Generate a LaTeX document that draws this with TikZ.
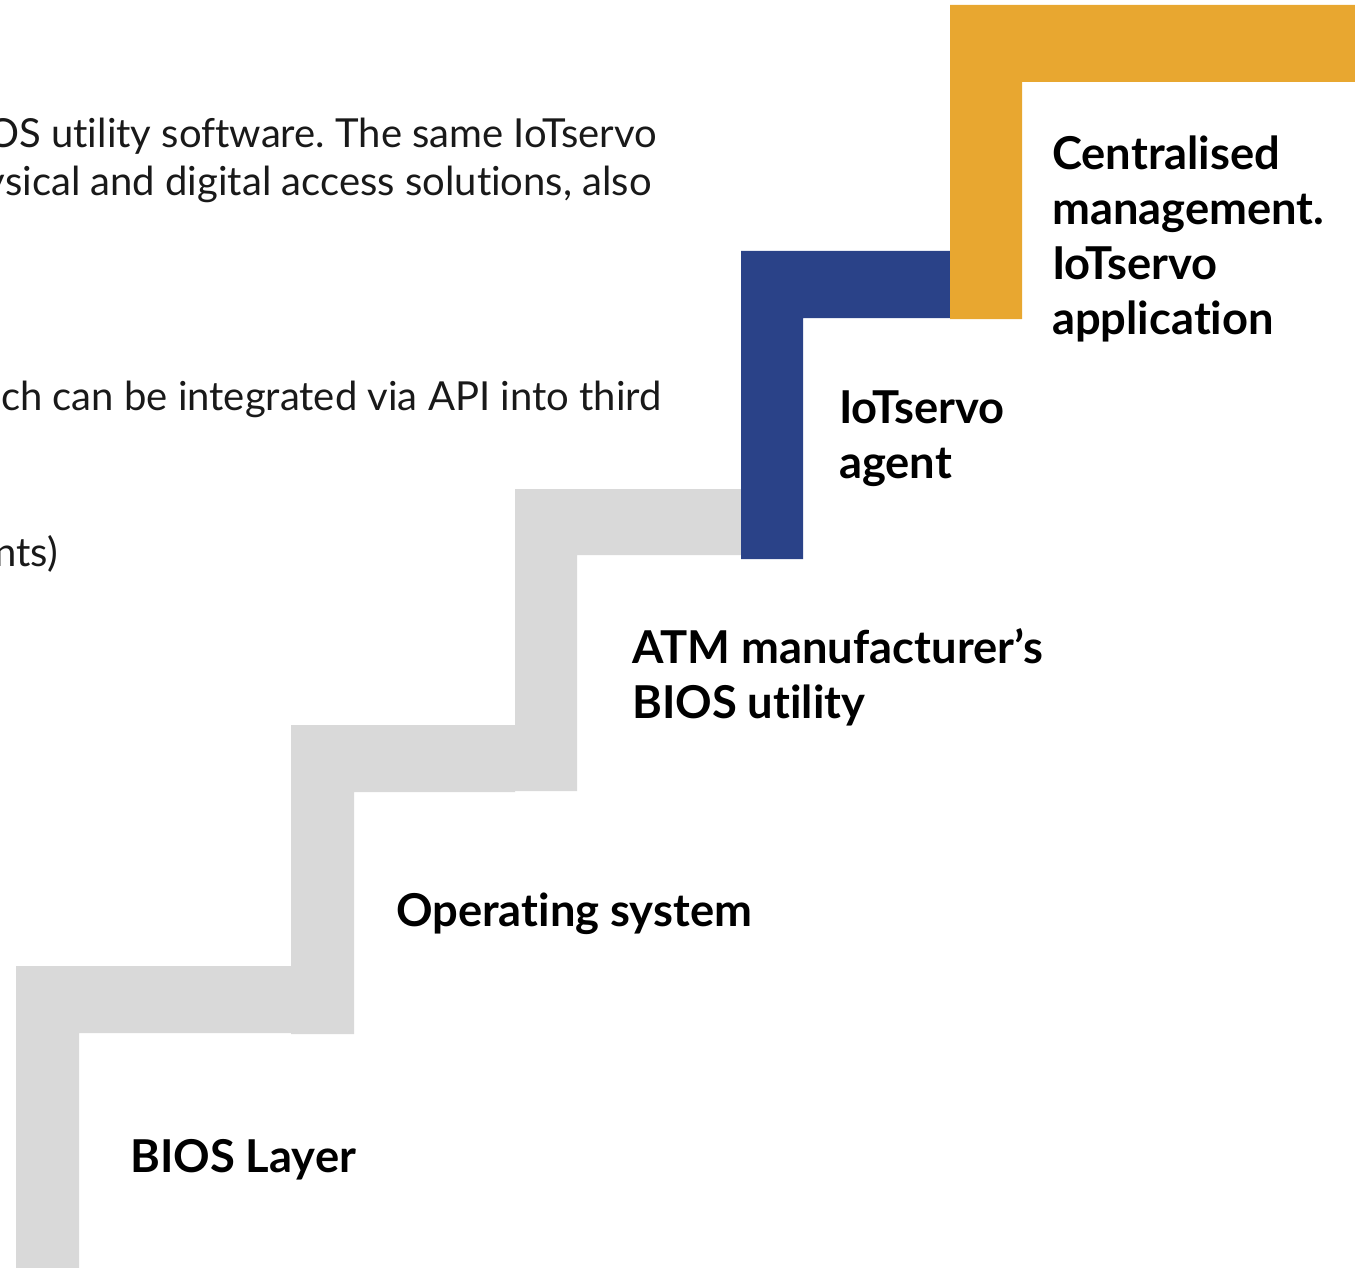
\documentclass[tikz,border=0pt]{standalone}
\usepackage{fontspec}
\setmainfont[RawFeature={-liga,-dlig,-clig,-calt,-rlig}]{Lato}
\definecolor{stepgray}{HTML}{D9D9D9}
\definecolor{stepblue}{HTML}{2A4288}
\definecolor{steporange}{HTML}{E8A730}
\tikzset{
  label/.style={anchor=base west, inner sep=0pt, font=\fontsize{45.3}{55}\selectfont\bfseries},
  bgtext/.style={anchor=base east, inner sep=0pt, font=\fontsize{40}{48}\selectfont, text=black!90},
}
\newcommand{\lbl}[1]{\begin{tabular}[t]{@{}l@{}}#1\end{tabular}}
\newcommand{\tii}{t\kern0pt i}
\frenchspacing
\begin{document}
\begin{tikzpicture}[x=1pt,y=-1pt]
\useasboundingbox (0,0) rectangle (1355,1268);
\clip (0,0) rectangle (1355,1268);
% background text (cut off at left, as in the reference)
\node[bgtext] (t1) at (657,148) {OS u\tii{}lity software. The same IoTservo};
\node[bgtext] (t2) at (652,196) {ysical and digital access solu\tii{}ons, also};
\node[bgtext] (t3) at (662,410) {ch can be integrated via API into third};
\node[bgtext] (t4) at (58,566) {nts)};
% staircase
\fill[stepgray] (16,1268) -- (16,966) -- (291,966) -- (291,1033) -- (79,1033) -- (79,1268) -- cycle;
\fill[stepgray] (291,1034) -- (291,725) -- (515,725) -- (515,792) -- (354,792) -- (354,1034) -- cycle;
\fill[stepgray] (515,791) -- (515,489) -- (741,489) -- (741,555) -- (577,555) -- (577,791) -- cycle;
\fill[stepblue] (741,559) -- (741,251) -- (950,251) -- (950,318) -- (803,318) -- (803,559) -- cycle;
\fill[steporange] (950,319) -- (950,5) -- (1355,5) -- (1355,82) -- (1022,82) -- (1022,319) -- cycle;
% labels
\node[label] (l5) at (1052,170) {\lbl{Centralised\\management.\\IoTservo\\applica\tii{}on}};
\node[label] (l4) at (839,423) {\lbl{IoTservo\\agent}};
\node[label] (l3) at (632,663) {\lbl{ATM manufacturer’s\\BIOS u\tii{}lity}};
\node[label] (l2) at (396,926) {Opera\tii{}ng system};
\node[label] (l1) at (130,1172) {BIOS Layer};
\end{tikzpicture}
\end{document}
